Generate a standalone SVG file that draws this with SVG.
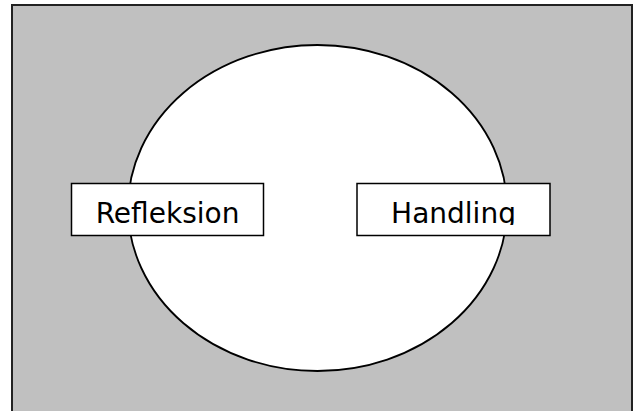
<svg xmlns="http://www.w3.org/2000/svg" width="634" height="411" viewBox="0 0 634 411">
<style>
.box{fill:#fff;stroke:#000;stroke-width:1.5}
.lbl{font-family:"DejaVu Sans",sans-serif;font-size:28px;fill:#000;text-anchor:middle}
</style>
<defs>
<clipPath id="c1"><rect x="71" y="183" width="193" height="42"/></clipPath>
<clipPath id="c2"><rect x="357" y="183" width="193" height="42"/></clipPath>
</defs>
<rect id="bg" x="12" y="5" width="620" height="420" fill="#c0c0c0" stroke="#222" stroke-width="2"/>
<g id="cycle"><ellipse cx="317.5" cy="208" rx="189.5" ry="163" fill="#fff" stroke="#000" stroke-width="1.8"/></g>
<g id="connectors"></g>
<g id="refleksion">
<rect class="box" x="71.5" y="183.5" width="192" height="52"/>
<text class="lbl" x="167.5" y="223" clip-path="url(#c1)">Refleksion</text>
</g>
<g id="handling">
<rect class="box" x="357" y="183.5" width="193" height="52"/>
<text class="lbl" x="453.5" y="223" clip-path="url(#c2)">Handling</text>
</g>
</svg>
